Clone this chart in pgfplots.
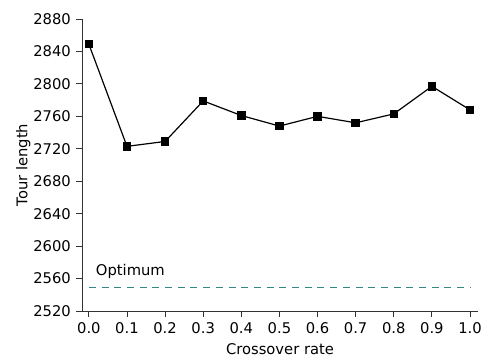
\documentclass[border=0pt]{standalone}
\usepackage{fontspec}
\setmainfont{DejaVu Sans}
\usepackage{pgfplots}
\pgfplotsset{compat=1.18}
\definecolor{optcol}{RGB}{50,135,130}
\begin{document}
\fontsize{14.8}{17}\selectfont
\begin{tikzpicture}
\begin{axis}[
  scale only axis,
  width=396bp, height=292bp,
  xmin=-0.018, xmax=1.021,
  ymin=2520, ymax=2880,
  axis lines=left,
  axis line style={-, black!80, line width=0.9pt},
  tick align=outside,
  major tick length=6bp,
  tick style={black!80, line width=0.9pt},
  xtick={0,0.1,...,1.0},
  ytick={2520,2560,...,2880},
  xticklabel style={/pgf/number format/.cd, fixed, fixed zerofill, precision=1, assume math mode=true},
  yticklabel style={/pgf/number format/.cd, fixed, set thousands separator={}, assume math mode=true},
  xlabel={Crossover rate},
  ylabel={Tour length},
  ylabel style={yshift=-7bp},
  every axis label/.append style={font=\fontsize{14.8}{17}\selectfont},
  ticklabel style={font=\fontsize{14.8}{17}\selectfont},
  clip=false,
]
\addplot[optcol, line width=1.5pt, dash pattern=on 7bp off 5.7bp] coordinates {(0,2549) (1.0,2549)};
\addplot[black, line width=1.2pt, mark=square*, mark size=3.6bp, mark options={solid, fill=black}] coordinates {
(0.0,2849) (0.1,2723) (0.2,2729) (0.3,2779) (0.4,2761) (0.5,2748) (0.6,2760) (0.7,2752) (0.8,2763) (0.9,2797) (1.0,2768)};
\node[anchor=base west, inner sep=0pt, font=\fontsize{14.8}{17}\selectfont] at (axis cs:0.018,2563.5) {Optimum};
\end{axis}
\path (current axis.south west) ++(-82bp,-53bp) rectangle ++(487bp,364bp);
\end{tikzpicture}
\end{document}
